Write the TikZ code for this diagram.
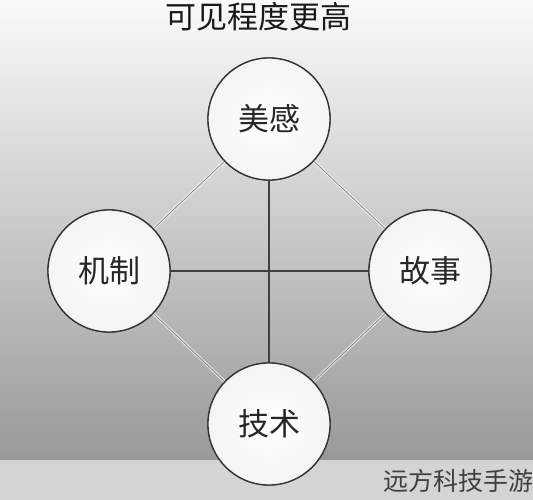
\documentclass[tikz,border=0pt]{standalone}
\usepackage{fontspec}
\newfontfamily\cjk{Noto Sans CJK SC}
\begin{document}
\begin{tikzpicture}[x=1pt,y=-1pt,
  circ/.style={circle,draw=black!80,line width=1.3pt,minimum size=122pt,inner sep=0pt,
    inner color=white,outer color=black!4,font=\cjk\fontsize{31}{31}\selectfont,text=black!85},
  strong/.style={draw=black!75,line width=1.4pt},
  halo/.style={draw=white,opacity=0.6,line width=3pt},
  thin/.style={draw=black!50,line width=0.7pt}]
\useasboundingbox (0,0) rectangle (533,500);
\shade[top color=black!2,bottom color=black!40] (0,0) rectangle (533,460);
\fill[black!17] (0,460) rectangle (533,500);
\node[font=\cjk\fontsize{31}{31}\selectfont,text=black!90] (title) at (258,17) {可见程度更高};
\node[anchor=east,font=\cjk\fontsize{25}{25}\selectfont,text=black!75,inner sep=0pt] (wm) at (534,481) {远方科技手游};
\coordinate (cT) at (269,119);
\coordinate (cL) at (109,271);
\coordinate (cR) at (430,271);
\coordinate (cB) at (269,424);
\path (cT) node[circ] (t) {};
\path (cL) node[circ] (l) {};
\path (cR) node[circ] (r) {};
\path (cB) node[circ] (b) {};
\draw[halo] (cT)--(cL) (cT)--(cR) (cB)--(cL) (cB)--(cR);
\draw[thin] (cT)--(cL) (cT)--(cR) (cB)--(cL) (cB)--(cR);
\draw[strong] (cT)--(cB) (cL)--(cR);
\node[circ] (mg) at (cT) {美感};
\node[circ] (jz) at (cL) {机制};
\node[circ] (gs) at (cR) {故事};
\node[circ] (js) at (cB) {技术};
\end{tikzpicture}
\end{document}
